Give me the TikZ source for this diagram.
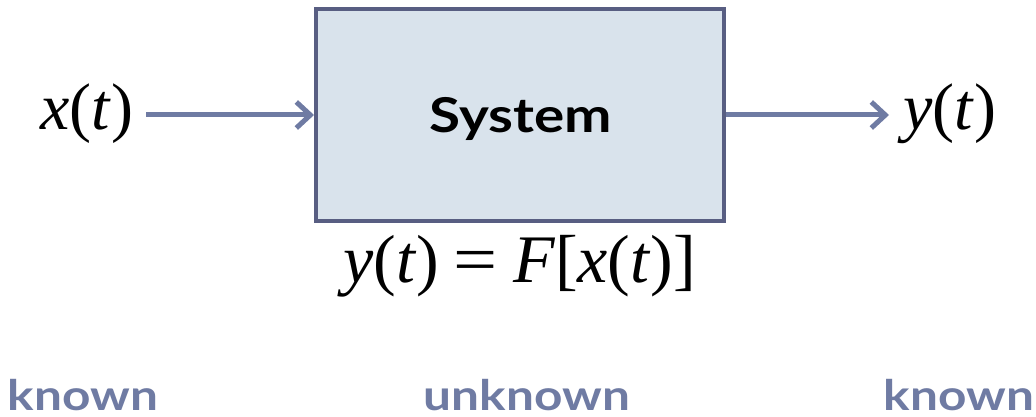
\documentclass[tikz,border=0pt]{standalone}
\usepackage{fontspec}
\setmainfont{Liberation Serif}
\newfontfamily\gillfont{Lato}[FakeStretch=1.18]
\usetikzlibrary{arrows.meta}
\definecolor{boxborder}{HTML}{585E82}
\definecolor{boxfill}{HTML}{D9E3EC}
\definecolor{arrowcol}{HTML}{6F7BA3}
\newcommand{\mi}[1]{\textit{#1}}
\tikzset{
  sysbox/.style={draw=boxborder, fill=boxfill, line width=4pt, minimum width=408pt, minimum height=212pt, inner sep=0pt},
  sig/.style={inner sep=0pt, anchor=base west, font=\fontsize{66}{70}\selectfont},
  eqn/.style={inner sep=0pt, anchor=base west, font=\fontsize{68}{72}\selectfont},
  lbl/.style={inner sep=0pt, anchor=base, text=arrowcol, font=\gillfont\bfseries\fontsize{42}{46}\selectfont},
  flow/.style={draw=arrowcol, line width=5pt, -{Straight Barb[length=14pt,width=26pt,line width=5pt]}},
}
\begin{document}
\begin{tikzpicture}[x=1pt,y=-1pt]
\useasboundingbox (0,0) rectangle (1036,417);
\node[sysbox] (sys) at (520,115) {};
\node[inner sep=0pt, anchor=base, font=\gillfont\bfseries\fontsize{48}{52}\selectfont] (systxt) at (521,133) {System};
\node[sig] (xt) at (40,130) {\mi{x}(\mi{t})};
\node[sig] (yt) at (903,130) {\mi{y}(\mi{t})};
\node[eqn] (eq) at (343,282) {\mi{y}(\mi{t})\hspace{15pt}\scalebox{1.15}[1]{=}\hspace{15pt}\mi{F}[\mi{x}(\mi{t})]};
\node[lbl] (k1) at (83,410) {known};
\node[lbl] (k2) at (527,410) {unknown};
\node[lbl] (k3) at (959,410) {known};
\draw[flow, shorten <=13pt] (xt.east |- sys.west) -- (sys.west);
\draw[flow, shorten >=14pt] (sys.east) -- (yt.west |- sys.east);
\end{tikzpicture}
\end{document}
